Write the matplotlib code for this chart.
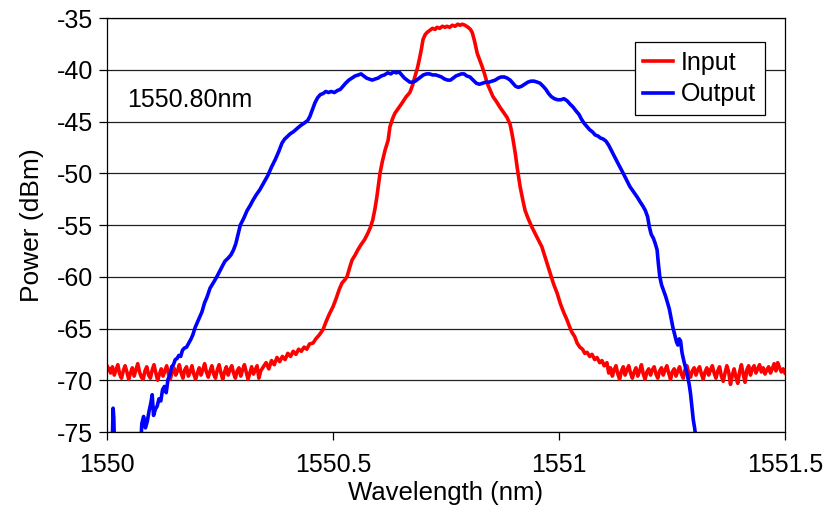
import numpy as np
import matplotlib
matplotlib.use("Agg")
import matplotlib.pyplot as plt

plt.rcParams['font.family'] = ['Liberation Sans', 'DejaVu Sans']

# ---------------- data ----------------
# Input spectrum: baseline noise (left), transition/peak, baseline noise (right)
input_noise_left = [
    -68.6, -68.9, -69.3, -68.7, -69.5, -69.0, -68.5, -69.4, -69.8, -69.1,
    -68.6, -69.2, -69.9, -69.3, -68.8, -69.6, -69.0, -68.4, -69.2, -69.7,
    -69.9, -69.1, -68.7, -69.5, -69.8, -69.0, -68.5, -69.3, -70.0, -69.4,
    -68.9, -69.6, -69.1, -68.6, -69.4, -69.9, -69.2, -68.8, -69.5, -69.1,
    -68.5, -69.3, -69.8, -69.0, -68.7, -69.6, -69.2, -68.6, -69.4, -69.9,
    -69.3, -68.8, -69.5, -69.0, -68.4, -69.2, -69.7, -69.1, -68.6, -69.4,
    -69.8, -69.0, -68.5, -69.3, -69.9, -69.2, -68.7, -69.5, -69.0, -68.6,
    -69.3, -69.8, -69.1, -68.8, -69.6, -69.0, -68.5, -69.2, -69.9, -69.3,
    -68.7, -69.4, -69.0, -68.6, -69.8, -69.1]
input_noise_left_range = (1550.000, 1550.340)

input_peak_wl = [
    1550.346, 1550.352, 1550.358, 1550.364, 1550.370, 1550.376, 1550.382, 1550.388,
    1550.394, 1550.400, 1550.406, 1550.412, 1550.418, 1550.424, 1550.430, 1550.436,
    1550.442, 1550.448, 1550.456, 1550.462, 1550.470, 1550.478, 1550.485, 1550.492,
    1550.500, 1550.507, 1550.514, 1550.520, 1550.526, 1550.531, 1550.537, 1550.542,
    1550.549, 1550.555, 1550.562, 1550.570, 1550.577, 1550.583, 1550.588, 1550.593,
    1550.597, 1550.601, 1550.604, 1550.609, 1550.615, 1550.622, 1550.626, 1550.632,
    1550.637, 1550.645, 1550.653, 1550.662, 1550.670, 1550.676, 1550.681, 1550.687,
    1550.692, 1550.696, 1550.699, 1550.704, 1550.708, 1550.714, 1550.720, 1550.726,
    1550.730, 1550.736, 1550.742, 1550.748, 1550.752, 1550.758, 1550.764, 1550.770,
    1550.776, 1550.781, 1550.786, 1550.792, 1550.799, 1550.804, 1550.808, 1550.813,
    1550.819, 1550.825, 1550.830, 1550.836, 1550.841, 1550.848, 1550.854, 1550.862,
    1550.869, 1550.877, 1550.885, 1550.892, 1550.897, 1550.903, 1550.908, 1550.914,
    1550.920, 1550.925, 1550.932, 1550.940, 1550.948, 1550.955, 1550.962, 1550.970,
    1550.980, 1550.988, 1550.996, 1551.003, 1551.010, 1551.018, 1551.024, 1551.029,
    1551.035, 1551.040, 1551.046, 1551.052, 1551.057, 1551.062, 1551.068, 1551.073,
    1551.079, 1551.084, 1551.090, 1551.095, 1551.100, 1551.106]
input_peak_dbm = [
    -68.7, -68.3, -68.9, -68.1, -68.5, -67.8, -68.2, -67.7,
    -68.0, -67.4, -67.7, -67.2, -67.5, -67.0, -67.2, -66.8,
    -67.0, -66.5, -66.4, -66.0, -65.6, -65.1, -64.3, -63.6,
    -62.9, -62.1, -61.2, -60.6, -60.3, -60.0, -59.1, -58.4,
    -57.9, -57.4, -56.9, -56.4, -55.8, -55.2, -54.5, -53.4,
    -52.3, -51.0, -50.0, -48.9, -47.8, -46.8, -45.5, -44.7,
    -44.2, -43.7, -43.2, -42.6, -42.2, -41.5, -40.7, -39.8,
    -38.8, -37.9, -37.1, -36.6, -36.4, -36.2, -36.0, -36.1,
    -35.9, -36.0, -35.8, -35.9, -35.8, -35.9, -35.7, -35.8,
    -35.6, -35.7, -35.6, -35.7, -35.9, -36.1, -36.4, -37.2,
    -38.4, -39.1, -39.7, -40.5, -41.3, -42.0, -42.6, -43.1,
    -43.6, -44.1, -44.6, -45.3, -46.4, -48.0, -49.6, -51.3,
    -52.6, -53.6, -54.4, -55.2, -55.9, -56.5, -57.1, -58.2,
    -59.6, -60.7, -61.6, -62.6, -63.4, -64.2, -64.9, -65.4,
    -65.8, -66.4, -66.8, -67.0, -67.4, -67.3, -67.7, -67.5,
    -68.0, -67.8, -68.3, -68.1, -68.6, -68.3]

input_noise_right = [
    -69.3, -68.8, -69.6, -69.0, -68.6, -69.4, -69.9, -69.1, -68.7, -69.5,
    -69.0, -68.6, -69.3, -69.8, -69.2, -68.8, -69.6, -69.1, -68.5, -69.4,
    -69.9, -69.2, -68.9, -69.5, -69.0, -68.7, -69.4, -69.8, -69.1, -68.8,
    -69.5, -69.0, -68.6, -69.3, -69.9, -69.2, -68.9, -69.6, -69.1, -68.7,
    -69.4, -69.8, -69.0, -68.6, -69.3, -69.7, -69.1, -68.8, -69.5, -69.0,
    -68.7, -69.4, -69.9, -69.2, -68.8, -69.5, -69.0, -68.6, -69.3, -69.8,
    -69.1, -68.7, -69.6, -70.1, -69.3, -68.6, -69.2, -70.4, -69.5, -68.9,
    -69.7, -70.3, -69.2, -68.5, -69.4, -70.2, -69.0, -68.6, -69.5, -68.9,
    -68.6, -69.3, -68.9, -68.5, -69.2, -68.8, -69.4, -69.0, -68.7, -69.3,
    -68.9, -68.4, -69.1, -68.3, -68.8, -69.2, -68.9, -69.3]
input_noise_right_range = (1551.110, 1551.500)

output_wl = [
    1550.000, 1550.010, 1550.012, 1550.0135, 1550.015, 1550.017, 1550.022, 1550.070,
    1550.075, 1550.077, 1550.081, 1550.085, 1550.089, 1550.093, 1550.097, 1550.100,
    1550.103, 1550.107, 1550.111, 1550.115, 1550.119, 1550.123, 1550.127, 1550.131,
    1550.135, 1550.139, 1550.143, 1550.147, 1550.151, 1550.155, 1550.159, 1550.163,
    1550.167, 1550.171, 1550.176, 1550.181, 1550.186, 1550.190, 1550.195, 1550.199,
    1550.204, 1550.210, 1550.216, 1550.221, 1550.228, 1550.235, 1550.243, 1550.250,
    1550.256, 1550.261, 1550.268, 1550.274, 1550.280, 1550.285, 1550.290, 1550.295,
    1550.302, 1550.310, 1550.317, 1550.323, 1550.330, 1550.338, 1550.347, 1550.356,
    1550.364, 1550.372, 1550.380, 1550.387, 1550.393, 1550.398, 1550.405, 1550.412,
    1550.420, 1550.428, 1550.438, 1550.444, 1550.449, 1550.455, 1550.460, 1550.466,
    1550.472, 1550.478, 1550.484, 1550.490, 1550.496, 1550.503, 1550.510, 1550.516,
    1550.522, 1550.528, 1550.535, 1550.542, 1550.549, 1550.556, 1550.562, 1550.568,
    1550.574, 1550.580, 1550.587, 1550.593, 1550.600, 1550.607, 1550.614, 1550.621,
    1550.628, 1550.634, 1550.640, 1550.646, 1550.652, 1550.658, 1550.664, 1550.670,
    1550.676, 1550.682, 1550.688, 1550.694, 1550.700, 1550.707, 1550.714, 1550.720,
    1550.727, 1550.734, 1550.740, 1550.747, 1550.754, 1550.760, 1550.766, 1550.772,
    1550.778, 1550.784, 1550.790, 1550.796, 1550.803, 1550.810, 1550.817, 1550.824,
    1550.831, 1550.838, 1550.845, 1550.852, 1550.859, 1550.866, 1550.872, 1550.879,
    1550.885, 1550.892, 1550.898, 1550.904, 1550.910, 1550.917, 1550.924, 1550.931,
    1550.938, 1550.945, 1550.952, 1550.958, 1550.965, 1550.971, 1550.977, 1550.983,
    1550.990, 1550.997, 1551.004, 1551.011, 1551.018, 1551.024, 1551.031, 1551.038,
    1551.044, 1551.050, 1551.056, 1551.062, 1551.068, 1551.074, 1551.080, 1551.086,
    1551.092, 1551.098, 1551.104, 1551.110, 1551.117, 1551.124, 1551.130, 1551.136,
    1551.142, 1551.150, 1551.157, 1551.165, 1551.173, 1551.180, 1551.186, 1551.191,
    1551.196, 1551.200, 1551.204, 1551.209, 1551.213, 1551.217, 1551.220, 1551.223,
    1551.227, 1551.231, 1551.236, 1551.240, 1551.244, 1551.248, 1551.252, 1551.256,
    1551.260, 1551.263, 1551.266, 1551.269, 1551.272, 1551.276, 1551.280, 1551.284,
    1551.288, 1551.291, 1551.294, 1551.297, 1551.300, 1551.303, 1551.306, 1551.310]
output_dbm = [
    -80.0, -79.0, -75.5, -72.7, -73.6, -77.0, -80.0, -80.0,
    -76.0, -74.2, -73.5, -74.6, -74.0, -73.0, -72.2, -71.4,
    -73.4, -72.8, -72.5, -71.8, -72.0, -70.9, -70.6, -71.2,
    -69.9, -69.5, -68.7, -68.5, -68.0, -67.9, -67.6, -67.7,
    -67.1, -66.9, -66.8, -66.4, -66.0, -65.6, -64.9, -64.5,
    -64.0, -63.4, -62.5, -62.0, -61.1, -60.6, -60.0, -59.4,
    -58.9, -58.5, -58.2, -57.9, -57.4, -56.8, -55.9, -55.0,
    -54.4, -53.6, -53.1, -52.6, -52.1, -51.6, -50.9, -50.2,
    -49.4, -48.7, -47.9, -47.1, -46.7, -46.5, -46.2, -46.0,
    -45.7, -45.4, -45.1, -44.9, -44.5, -43.8, -43.2, -42.7,
    -42.4, -42.3, -42.1, -42.2, -42.1, -42.2, -42.0, -41.9,
    -41.6, -41.3, -41.0, -40.8, -40.6, -40.5, -40.4, -40.6,
    -40.8, -40.9, -41.0, -40.9, -40.8, -40.6, -40.5, -40.3,
    -40.4, -40.2, -40.3, -40.2, -40.5, -40.8, -41.0, -41.2,
    -41.2, -41.1, -40.9, -40.7, -40.5, -40.4, -40.4, -40.5,
    -40.5, -40.6, -40.7, -40.9, -41.0, -41.0, -40.8, -40.6,
    -40.5, -40.4, -40.4, -40.6, -40.7, -41.0, -41.3, -41.4,
    -41.3, -41.2, -41.2, -41.1, -41.0, -40.8, -40.7, -40.7,
    -40.8, -41.0, -41.3, -41.6, -41.7, -41.6, -41.4, -41.2,
    -41.1, -41.1, -41.2, -41.3, -41.6, -41.9, -42.3, -42.6,
    -42.8, -42.9, -42.9, -42.8, -43.0, -43.3, -43.6, -44.0,
    -44.3, -44.8, -45.2, -45.5, -45.8, -46.0, -46.3, -46.4,
    -46.6, -46.7, -46.9, -47.3, -47.9, -48.5, -49.0, -49.5,
    -50.0, -50.7, -51.3, -51.8, -52.3, -52.8, -53.2, -53.6,
    -54.2, -55.2, -55.9, -56.3, -56.8, -57.4, -58.8, -60.0,
    -60.8, -61.3, -61.9, -62.5, -63.1, -64.0, -64.9, -65.6,
    -66.3, -66.6, -66.0, -66.2, -67.3, -68.1, -68.8, -69.5,
    -70.4, -71.3, -72.6, -73.8, -74.6, -75.6, -78.0, -80.0]

series_labels = ["Input", "Output"]
x_ticks = [1550, 1550.5, 1551, 1551.5]
x_tick_labels = ["1550", "1550.5", "1551", "1551.5"]
y_ticks = [-75, -70, -65, -60, -55, -50, -45, -40, -35]
annotation = "1550.80nm"

# ---------------- assemble ----------------
input_wl = np.concatenate([
    np.linspace(*input_noise_left_range, len(input_noise_left)),
    input_peak_wl,
    np.linspace(*input_noise_right_range, len(input_noise_right))])
input_dbm = np.concatenate([input_noise_left, input_peak_dbm, input_noise_right])

FS = 18

# ---------------- plot ----------------
fig = plt.figure(figsize=(8.27, 5.18), dpi=100)
ax = fig.add_axes([107/827, 1-432/518, (785-107)/827, (432-18)/518])

ax.plot(input_wl, input_dbm, color='#FF0000', lw=2.6, label=series_labels[0],
        solid_joinstyle='round')
ax.plot(output_wl, output_dbm, color='#0000FF', lw=2.6, label=series_labels[1],
        solid_joinstyle='round')

ax.set_xlim(1550, 1551.5)
ax.set_ylim(-75, -35)
ax.set_xticks(x_ticks)
ax.set_xticklabels(x_tick_labels)
ax.set_yticks(y_ticks)
ax.set_yticklabels([str(v) for v in y_ticks])
ax.yaxis.grid(True, color='#222222', lw=0.9)
ax.set_axisbelow(True)
ax.tick_params(axis='both', direction='out', length=6, width=0.9,
               labelsize=FS, colors='black')
ax.tick_params(axis='x', pad=9)
ax.tick_params(axis='y', pad=4)
for s in ax.spines.values():
    s.set_color('black')
    s.set_linewidth(0.9)

ax.set_xlabel("Wavelength (nm)", fontsize=FS + 0.5, labelpad=3)
ax.set_ylabel("Power (dBm)", fontsize=FS + 1, labelpad=9)

ax.text(1550.044, -42.9, annotation, fontsize=FS, va='center', ha='left')

leg = ax.legend(loc='upper right', bbox_to_anchor=(0.970, 0.942), fontsize=FS,
                frameon=True, fancybox=False, shadow=False, framealpha=1,
                edgecolor='black', handlelength=1.2, handletextpad=0.3,
                borderpad=0.35, labelspacing=0.3, borderaxespad=0)
leg.get_frame().set_linewidth(0.9)

fig.savefig("out.png", dpi=100)
